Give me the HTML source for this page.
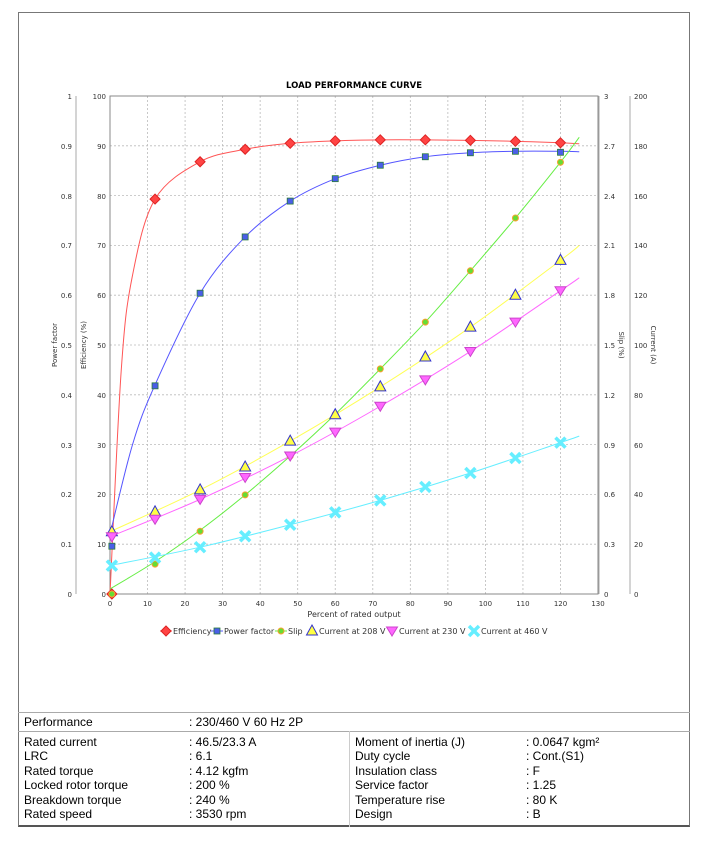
<!DOCTYPE html>
<html><head><meta charset="utf-8"><style>
body{margin:0;background:#fff;width:709px;height:848px;position:relative;font-family:"Liberation Sans",sans-serif;overflow:hidden}
#box{position:absolute;left:18px;top:12px;width:672px;height:815px;border:1px solid #777;border-bottom:2px solid #555;box-sizing:border-box}
.t{position:absolute;font-size:12px;color:#000;white-space:nowrap}
.hl{position:absolute;left:18px;width:672px;height:1px;background:#aaa}
</style></head><body>
<div id="box"></div>
<svg id="s" width="709" height="848" style="position:absolute;left:0;top:0" font-family="DejaVu Sans, sans-serif" font-size="7" fill="#333">
<text x="354" y="88" text-anchor="middle" font-size="8.5" font-weight="bold" fill="#000">LOAD PERFORMANCE CURVE</text>
<g id="grid" stroke="#bbb" stroke-dasharray="2,2" stroke-width="0.8"></g>
<rect x="110" y="96" width="488" height="498" fill="none" stroke="#888"/>
<line x1="76" y1="96" x2="76" y2="594" stroke="#aaa"/>
<line x1="599" y1="96" x2="599" y2="594" stroke="#aaa"/>
<line x1="630" y1="96" x2="630" y2="594" stroke="#aaa"/>
<g text-anchor="end">
<text x="72" y="597">0</text><text x="72" y="547">0.1</text><text x="72" y="497">0.2</text><text x="72" y="448">0.3</text><text x="72" y="398">0.4</text><text x="72" y="348">0.5</text><text x="72" y="298">0.6</text><text x="72" y="248">0.7</text><text x="72" y="199">0.8</text><text x="72" y="149">0.9</text><text x="72" y="99">1</text>
<text x="106" y="597">0</text><text x="106" y="547">10</text><text x="106" y="497">20</text><text x="106" y="448">30</text><text x="106" y="398">40</text><text x="106" y="348">50</text><text x="106" y="298">60</text><text x="106" y="248">70</text><text x="106" y="199">80</text><text x="106" y="149">90</text><text x="106" y="99">100</text>
</g>
<g>
<text x="604" y="597">0</text><text x="604" y="547">0.3</text><text x="604" y="497">0.6</text><text x="604" y="448">0.9</text><text x="604" y="398">1.2</text><text x="604" y="348">1.5</text><text x="604" y="298">1.8</text><text x="604" y="248">2.1</text><text x="604" y="199">2.4</text><text x="604" y="149">2.7</text><text x="604" y="99">3</text>
<text x="634" y="597">0</text><text x="634" y="547">20</text><text x="634" y="497">40</text><text x="634" y="448">60</text><text x="634" y="398">80</text><text x="634" y="348">100</text><text x="634" y="298">120</text><text x="634" y="248">140</text><text x="634" y="199">160</text><text x="634" y="149">180</text><text x="634" y="99">200</text>
</g>
<g text-anchor="middle">
<text x="110" y="606">0</text><text x="147.5" y="606">10</text><text x="185" y="606">20</text><text x="222.6" y="606">30</text><text x="260.2" y="606">40</text><text x="297.7" y="606">50</text><text x="335.2" y="606">60</text><text x="372.8" y="606">70</text><text x="410.3" y="606">80</text><text x="447.9" y="606">90</text><text x="485.4" y="606">100</text><text x="522.9" y="606">110</text><text x="560.5" y="606">120</text><text x="598" y="606">130</text>
<text x="354" y="617" font-size="8">Percent of rated output</text>
<text transform="translate(57,345) rotate(-90)">Power factor</text>
<text transform="translate(86,345) rotate(-90)">Efficiency (%)</text>
<text transform="translate(619,345) rotate(90)">Slip (%)</text>
<text transform="translate(651,345) rotate(90)">Current (A)</text>
</g>
<g id="series"></g>
<g font-size="8" fill="#333">
<text x="173" y="634">Efficiency</text>
<text x="224" y="634">Power factor</text>
<text x="288" y="634">Slip</text>
<text x="319" y="634">Current at 208 V</text>
<text x="399" y="634">Current at 230 V</text>
<text x="481" y="634">Current at 460 V</text>
</g>
<g id="leg"></g>
</svg>
<div class="hl" style="top:712px"></div>
<div class="hl" style="top:731px"></div>
<div style="position:absolute;left:349px;top:731px;width:1px;height:96px;background:#ccc"></div>
<div class="t" style="left:24px;top:715px">Performance</div>
<div class="t" style="left:189px;top:715px">: 230/460 V 60 Hz 2P</div>
<div class="t" style="left:24px;top:735px;line-height:14.4px">Rated current<br>LRC<br>Rated torque<br>Locked rotor torque<br>Breakdown torque<br>Rated speed</div>
<div class="t" style="left:189px;top:735px;line-height:14.4px">: 46.5/23.3 A<br>: 6.1<br>: 4.12 kgfm<br>: 200 %<br>: 240 %<br>: 3530 rpm</div>
<div class="t" style="left:355px;top:735px;line-height:14.4px">Moment of inertia (J)<br>Duty cycle<br>Insulation class<br>Service factor<br>Temperature rise<br>Design</div>
<div class="t" style="left:526px;top:735px;line-height:14.4px">: 0.0647 kgm²<br>: Cont.(S1)<br>: F<br>: 1.25<br>: 80 K<br>: B</div>
<script>
const NS="http://www.w3.org/2000/svg";
const X=v=>110+v*3.754, Y=p=>594-p*4.98;
const g=document.getElementById('grid');
function el(p,tag,a){const e=document.createElementNS(NS,tag);for(const k in a)e.setAttribute(k,a[k]);p.appendChild(e);return e;}
for(let i=1;i<13;i++)el(g,'line',{x1:X(i*10),x2:X(i*10),y1:96,y2:594});
for(let i=1;i<10;i++)el(g,'line',{x1:110,x2:598,y1:Y(i*10),y2:Y(i*10)});
const S=document.getElementById('series');
function smooth(pts){let d=`M${pts[0][0]},${pts[0][1]}`;for(let i=0;i<pts.length-1;i++){const p0=pts[i-1]||pts[i],p1=pts[i],p2=pts[i+1],p3=pts[i+2]||p2;d+=` C${p1[0]+(p2[0]-p0[0])/6},${p1[1]+(p2[1]-p0[1])/6} ${p2[0]-(p3[0]-p1[0])/6},${p2[1]-(p3[1]-p1[1])/6} ${p2[0]},${p2[1]}`;}return d;}
const xs=[0,12,24,36,48,60,72,84,96,108,120];
function marker(p,t,x,y){
 if(t=='d')el(p,'polygon',{points:`${x},${y-5} ${x+5},${y} ${x},${y+5} ${x-5},${y}`,fill:'#f44',stroke:'#d22'});
 if(t=='s')el(p,'rect',{x:x-3,y:y-3,width:6,height:6,fill:'#4a5ee8',stroke:'#2a7a3a','stroke-width':0.8});
 if(t=='c')el(p,'circle',{cx:x,cy:y,r:3,fill:'#6d3',stroke:'#f9a030'});
 if(t=='u')el(p,'polygon',{points:`${x},${y-6} ${x+5.5},${y+4} ${x-5.5},${y+4}`,fill:'#ff4',stroke:'#33c'});
 if(t=='v')el(p,'polygon',{points:`${x-5.5},${y-4} ${x+5.5},${y-4} ${x},${y+5}`,fill:'#f6f',stroke:'#c4c'});
 if(t=='x'){el(p,'path',{d:`M${x-5},${y-5}L${x+5},${y+5}M${x+5},${y-5}L${x-5},${y+5}`,stroke:'#6ef','stroke-width':3.5});}
}
const ser=[
 {c:'#f55',m:'d',line:[[0,0],[3,45],[6,64],[12,79.3],[24,86.8],[36,89.3],[48,90.5],[60,91],[72,91.2],[84,91.2],[96,91.1],[108,90.9],[120,90.6],[125,90.4]],p:[0,79.3,86.8,89.3,90.5,91,91.2,91.2,91.1,90.9,90.6]},
 {c:'#55f',m:'s',line:[[0,12],[6,30],[12,42],[24,60.4],[36,71.7],[48,78.9],[60,83.4],[72,86.1],[84,87.8],[96,88.6],[108,88.9],[120,88.9],[125,88.8]],p:[9.6,41.8,60.4,71.7,78.9,83.4,86.1,87.8,88.6,88.9,88.7]},
 {c:'#6e4',m:'c',line:[[0,1],[12,6.5],[24,12.8],[36,19.9],[48,27.7],[60,36.1],[72,45.2],[84,54.6],[96,64.9],[108,75.5],[120,86.7],[125,91.7]],p:[0,6,12.6,19.9,27.7,36.1,45.2,54.6,64.9,75.5,86.7]},
 {c:'#ff5',m:'u',line:[[0,12.5],[24,20.9],[48,30.7],[72,41.6],[96,53.6],[120,67],[125,70]],p:[12.5,16.5,20.9,25.5,30.7,36,41.6,47.6,53.6,60,67]},
 {c:'#f6f',m:'v',line:[[0,11.5],[24,19],[48,27.7],[72,37.7],[96,48.7],[120,60.9],[125,63.5]],p:[11.5,15,19,23.4,27.7,32.5,37.7,43,48.7,54.6,60.9]},
 {c:'#6ef',m:'x',line:[[0,5.7],[24,9.4],[48,13.9],[72,18.8],[96,24.3],[120,30.4],[125,31.7]],p:[5.7,7.3,9.4,11.6,13.9,16.4,18.8,21.5,24.3,27.3,30.4]}];
ser.forEach(s=>{el(S,'path',{d:smooth(s.line.map(q=>[X(q[0]),Y(q[1])])),fill:'none',stroke:s.c,'stroke-width':1});});
ser.forEach(s=>{s.p.forEach((v,i)=>marker(S,s.m,X(xs[i]+(i==0?0.5:0)),Y(v)));});
const L=document.getElementById('leg');
[[166,'d','#f55'],[217,'s','#55f'],[281,'c','#6e4'],[312,'u'],[392,'v'],[474,'x']].forEach(a=>{if(a[2])el(L,'line',{x1:a[0]-6,x2:a[0]+6,y1:631,y2:631,stroke:a[2]});marker(L,a[1],a[0],631);});
</script>
</body></html>
